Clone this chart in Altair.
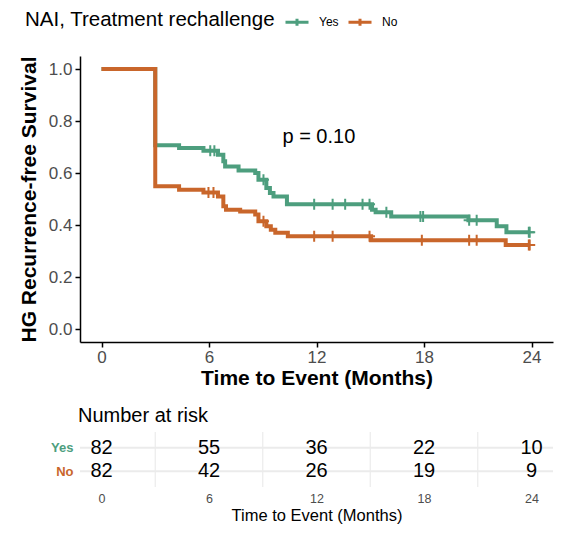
import altair as alt
import pandas as pd

GREEN = "#4d9e7e"
ORANGE = "#c9662b"
FONT = "Liberation Sans"

groups = ["Yes", "No"]

# Kaplan-Meier step curves (time in months, survival probability)
yes_time = [0, 3.0, 4.33, 5.69, 6.5, 6.8, 6.9, 7.65, 8.58, 8.76, 9.2, 9.4, 9.6,
            10.35, 15.1, 15.3, 16.17, 20.48, 22.06, 22.6, 23.9]
yes_surv = [1.0, 0.707, 0.696, 0.686, 0.670, 0.645, 0.625, 0.610, 0.600, 0.574,
            0.542, 0.523, 0.510, 0.480, 0.459, 0.449, 0.433, 0.418, 0.395, 0.372, 0.372]
yes_censor = [6.07, 6.3, 9.04, 11.87, 12.9, 13.6, 14.57, 14.96, 15.9, 17.8, 17.95,
              20.52, 20.94, 23.85, 23.9]

no_time = [0, 3.0, 4.33, 5.69, 6.5, 6.8, 6.95, 7.74, 8.58, 8.76, 9.2, 9.45, 9.7,
           10.4, 15.05, 22.56, 23.9]
no_surv = [1.0, 0.549, 0.536, 0.525, 0.510, 0.472, 0.459, 0.452, 0.440, 0.414,
           0.395, 0.382, 0.370, 0.357, 0.341, 0.323, 0.323]
no_censor = [5.97, 6.25, 9.04, 11.87, 12.9, 14.96, 17.88, 20.52, 20.94, 23.85, 23.9]

# Number at risk table
risk_time = [0, 6, 12, 18, 24]
risk_yes = [82, 55, 36, 22, 10]
risk_no = [82, 42, 26, 19, 9]
minor_grid = [3, 9, 15, 21]

p_label = "p = 0.10"


def step_value(times, surv, t):
    v = surv[0]
    for ti, si in zip(times, surv):
        if ti <= t:
            v = si
    return v


curve = pd.concat([
    pd.DataFrame({"time": yes_time, "surv": yes_surv, "group": "Yes"}),
    pd.DataFrame({"time": no_time, "surv": no_surv, "group": "No"}),
])
cens = pd.concat([
    pd.DataFrame({"time": yes_censor,
                  "surv": [step_value(yes_time, yes_surv, t) for t in yes_censor],
                  "group": "Yes"}),
    pd.DataFrame({"time": no_censor,
                  "surv": [step_value(no_time, no_surv, t) for t in no_censor],
                  "group": "No"}),
])

color_scale = alt.Scale(domain=groups, range=[GREEN, ORANGE])
legend = alt.Legend(
    title="NAI, Treatment rechallenge", orient="none", legendX=-55, legendY=-47,
    direction="horizontal", titleOrient="left", titleFontSize=20.5,
    titleFontWeight="normal", titleColor="black", titleFont=FONT, titlePadding=9,
    titleLimit=500,
    labelFont=FONT, labelFontSize=12, labelColor="black", labelOffset=9,
    symbolType="M-1,0L1,0M0,-0.3L0,0.3", symbolSize=529, symbolStrokeWidth=3,
    columnPadding=3,
)
color_enc = alt.Color("group:N", scale=color_scale, legend=legend)

x_scale = alt.Scale(domain=[-1.2, 25.2], nice=False, zero=False)

x_main = alt.X(
    "time:Q", scale=x_scale,
    axis=alt.Axis(values=[0, 6, 12, 18, 24], title="Time to Event (Months)",
                  grid=False, domainColor="black", domainWidth=1.5,
                  tickColor="black", tickWidth=1.5, tickSize=5,
                  labelFontSize=17, labelColor="#4d4d4d", labelFont=FONT,
                  labelPadding=2, titleFontSize=21, titleFontWeight="bold",
                  titleFont=FONT, titleColor="black", titlePadding=2),
)
y_main = alt.Y(
    "surv:Q",
    scale=alt.Scale(domain=[-0.05, 1.05], nice=False, zero=False),
    axis=alt.Axis(values=[0, 0.2, 0.4, 0.6, 0.8, 1.0], format=".1f",
                  title="HG Recurrence-free Survival", grid=False,
                  domainColor="black", domainWidth=1.5, tickColor="black",
                  tickWidth=1.5, tickSize=5, labelFontSize=17,
                  labelColor="#4d4d4d", labelFont=FONT, labelPadding=3,
                  titleFontSize=21, titleFontWeight="bold", titleFont=FONT,
                  titleColor="black", titlePadding=9),
)

layers = []
for g in groups:
    layers.append(
        alt.Chart(curve).transform_filter(alt.datum.group == g)
        .mark_line(interpolate="step-after", strokeWidth=4)
        .encode(x=x_main, y=y_main, color=color_enc)
    )
for g in groups:
    layers.append(
        alt.Chart(cens).transform_filter(alt.datum.group == g)
        .mark_point(shape="M-1,0L1,0M0,-1L0,1", filled=False, size=121,
                    strokeWidth=2, opacity=1)
        .encode(x="time:Q", y="surv:Q", color=color_enc)
    )
ptext = alt.Chart(pd.DataFrame({"label": [p_label]})).mark_text(
    align="left", baseline="middle", fontSize=20, font=FONT, color="black"
).encode(x=alt.datum(10.1), y=alt.datum(0.74), text="label:N")
layers.append(ptext)

main = alt.layer(*layers).properties(width=473, height=286)

# Risk table
risk = pd.concat([
    pd.DataFrame({"time": risk_time, "n": risk_yes, "group": "Yes"}),
    pd.DataFrame({"time": risk_time, "n": risk_no, "group": "No"}),
])
x_tab = alt.X(
    "time:Q", scale=x_scale,
    axis=alt.Axis(values=risk_time, title="Time to Event (Months)", grid=False,
                  domain=False, ticks=False, labelFontSize=12.5,
                  labelColor="#4d4d4d", labelFont=FONT, labelPadding=5.5,
                  titleFontSize=16.5, titleFontWeight="normal", titleFont=FONT,
                  titleColor="black", titlePadding=2.5),
)
y_tab = alt.Y(
    "group:N",
    scale=alt.Scale(domain=groups, type="point", padding=0.67),
    axis=alt.Axis(title=None, domain=False, ticks=False, grid=False,
                  labelFontSize=13, labelFontWeight="bold", labelFont=FONT,
                  labelPadding=7,
                  labelColor={"expr": f"datum.value == 'Yes' ? '{GREEN}' : '{ORANGE}'"}),
)

vgrid = alt.Chart(pd.DataFrame({"time": minor_grid})).mark_rule(
    color="#ebebeb", strokeWidth=1.2
).encode(x=alt.X("time:Q", scale=x_scale))
hgrid = alt.Chart(pd.DataFrame({"group": groups})).mark_rule(
    color="#ebebeb", strokeWidth=2
).encode(y=alt.Y("group:N"))
nums = alt.Chart(risk).mark_text(fontSize=20, font=FONT, color="black",
                                 baseline="middle").encode(
    x=x_tab, y=y_tab, text="n:Q")

table = alt.layer(vgrid, hgrid, nums).properties(
    width=473, height=55,
    title=alt.TitleParams("Number at risk", anchor="start", frame="group",
                          fontSize=20, fontWeight="normal", font=FONT,
                          color="black", dx=-2, offset=5),
)

chart = alt.vconcat(main, table, spacing=18).resolve_scale(
    color="independent", x="independent", y="independent"
).properties(
    padding={"left": 10, "top": 1, "right": 5, "bottom": 5},
    background="white",
).configure_view(strokeWidth=0)

chart.save("out.html", embed_options={"renderer": "svg", "actions": False})
